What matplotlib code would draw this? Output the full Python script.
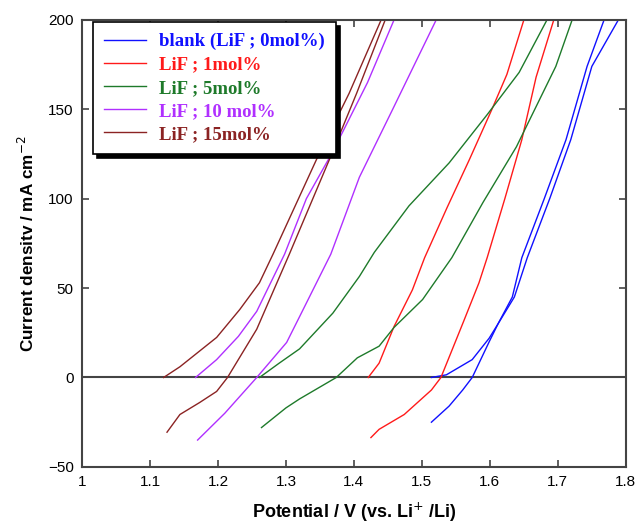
import matplotlib
matplotlib.use("Agg")
import matplotlib.pyplot as plt
import numpy as np

# two sweeps per sample (x = potential V, y = mA cm-2)
blank_a_x = [1.514, 1.536, 1.574, 1.599, 1.612, 1.633, 1.647, 1.680, 1.712, 1.743, 1.768]
blank_a_y = [0, 1.5, 10, 22, 30, 45, 67, 100, 133, 174, 200]
blank_b_x = [1.514, 1.540, 1.560, 1.574, 1.599, 1.612, 1.636, 1.655, 1.688, 1.719, 1.750, 1.789]
blank_b_y = [-25, -16, -7, 0, 20, 30, 45, 67, 100, 133, 174, 200]

lif1_a_x = [1.421, 1.437, 1.459, 1.486, 1.504, 1.537, 1.570, 1.603, 1.625, 1.650]
lif1_a_y = [0, 8, 28.5, 49, 67, 95, 122, 150, 169.5, 200]
lif1_b_x = [1.425, 1.437, 1.474, 1.514, 1.528, 1.562, 1.584, 1.596, 1.622, 1.647, 1.668, 1.694]
lif1_b_y = [-33.6, -29, -20.7, -7, 0, 32, 53, 67, 100, 133, 168, 200]

lif5_a_x = [1.261, 1.290, 1.320, 1.369, 1.408, 1.430, 1.481, 1.540, 1.596, 1.643, 1.684]
lif5_a_y = [0, 8, 16, 36, 56.5, 70, 96, 120, 147, 170.6, 200]
lif5_b_x = [1.264, 1.300, 1.320, 1.374, 1.405, 1.437, 1.459, 1.501, 1.544, 1.590, 1.639, 1.697, 1.721]
lif5_b_y = [-28, -17, -12, 0, 11, 17.5, 28, 43.6, 67, 98, 129, 174, 200]

lif10_a_x = [1.167, 1.198, 1.230, 1.257, 1.298, 1.330, 1.364, 1.383, 1.420, 1.459]
lif10_a_y = [0, 10, 23, 37, 69, 100, 123, 137, 165, 200]
lif10_b_x = [1.170, 1.210, 1.257, 1.301, 1.320, 1.366, 1.408, 1.457, 1.521]
lif10_b_y = [-35, -20, 0, 19.6, 34, 69, 112, 150, 200]

lif15_a_x = [1.120, 1.144, 1.198, 1.232, 1.261, 1.281, 1.345, 1.393, 1.440]
lif15_a_y = [0, 6, 22.4, 38, 53, 69, 122, 159, 200]
lif15_b_x = [1.125, 1.144, 1.173, 1.198, 1.214, 1.257, 1.305, 1.364, 1.404, 1.446]
lif15_b_y = [-30.6, -20.7, -14, -7.8, 0, 27, 69, 122, 159, 200]

labels = ["blank (LiF ; 0mol%)", "LiF ; 1mol%", "LiF ; 5mol%", "LiF ; 10 mol%", "LiF ; 15mol%"]
colores = ["#1010ff", "#ff1a1a", "#1e7a2a", "#b030ff", "#8b2323"]

series = [
    (blank_a_x, blank_a_y, blank_b_x, blank_b_y),
    (lif1_a_x, lif1_a_y, lif1_b_x, lif1_b_y),
    (lif5_a_x, lif5_a_y, lif5_b_x, lif5_b_y),
    (lif10_a_x, lif10_a_y, lif10_b_x, lif10_b_y),
    (lif15_a_x, lif15_a_y, lif15_b_x, lif15_b_y),
]

fig = plt.figure(figsize=(6.36, 5.24), dpi=100)
ax = fig.add_axes([0.129, 0.109, 0.855, 0.853])

for (ax_, ay_, bx_, by_), lab, col in zip(series, labels, colores):
    ax.plot(ax_, ay_, color=col, linewidth=1.0, label=lab)
    ax.plot(bx_, by_, color=col, linewidth=1.0)

ax.axhline(0, color="#444444", linewidth=1.5, zorder=1)

ax.set_xlim(1, 1.8)
ax.set_ylim(-50, 200)
xt = np.arange(1.0, 1.81, 0.1)
ax.set_xticks(xt)
ax.set_xticklabels(["1", "1.1", "1.2", "1.3", "1.4", "1.5", "1.6", "1.7", "1.8"])
ax.set_yticks([-50, 0, 50, 100, 150, 200])

for s in ax.spines.values():
    s.set_color("#444444")
    s.set_linewidth(1.5)
ax.tick_params(direction="in", top=True, right=True, length=5, width=1.2,
               color="#444444", labelsize=11, pad=6)
for t in ax.get_xticklabels() + ax.get_yticklabels():
    t.set_family("Liberation Sans")

ax.set_xlabel("Potential / V (vs. Li$^{+}$ /Li)", fontsize=13, fontweight="bold",
              family="Liberation Sans", labelpad=8)
ax.set_ylabel("Current densitv / mA cm$^{-2}$", fontsize=12.3, fontweight="bold",
              family="Liberation Sans", labelpad=8)

leg = ax.legend(loc="upper left", bbox_to_anchor=(0.0202, 0.9955), borderaxespad=0,
                frameon=True, fancybox=False, edgecolor="black",
                handlelength=2.2, handletextpad=0.7, borderpad=0.6,
                labelspacing=0.32,
                prop={"family": "Liberation Serif", "size": 13.5, "weight": "bold"},
                shadow={"color": "black", "alpha": 1, "ox": 2.8, "oy": -2.8})
leg.get_frame().set_linewidth(1.2)
for txt, col in zip(leg.get_texts(), colores):
    txt.set_color(col)

plt.savefig("out.png", dpi=100)
